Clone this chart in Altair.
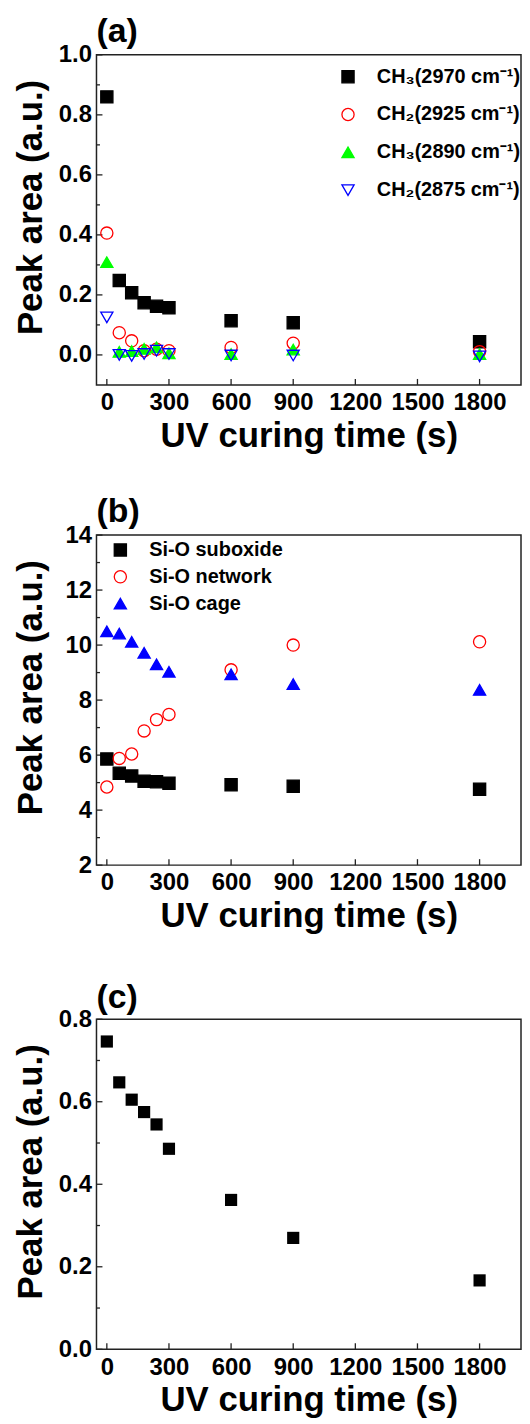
import altair as alt
import pandas as pd

FONT = "Liberation Sans"

# ---------------- data ----------------
time_s = [0, 60, 120, 180, 240, 300, 600, 900, 1800]

# panel (a)
ch3_2970 = [0.860, 0.248, 0.207, 0.174, 0.162, 0.157, 0.114, 0.107, 0.044]
ch2_2925 = [0.406, 0.074, 0.047, 0.014, 0.019, 0.014, 0.025, 0.039, 0.011]
ch3_2890 = [0.309, 0.010, 0.013, 0.020, 0.025, 0.005, 0.003, 0.018, 0.003]
ch2_2875 = [0.125, 0.000, -0.003, 0.003, 0.014, 0.003, -0.002, -0.002, -0.005]
series_a = ["CH₃(2970 cm⁻¹)", "CH₂(2925 cm⁻¹)", "CH₃(2890 cm⁻¹)", "CH₂(2875 cm⁻¹)"]

# panel (b)
si_o_suboxide = [5.86, 5.34, 5.24, 5.05, 5.03, 4.98, 4.92, 4.87, 4.76]
si_o_network = [4.84, 5.88, 6.04, 6.88, 7.29, 7.48, 9.10, 10.00, 10.12]
si_o_cage = [10.50, 10.42, 10.12, 9.72, 9.30, 9.03, 8.94, 8.58, 8.37]
series_b = ["Si-O suboxide", "Si-O network", "Si-O cage"]

# panel (c)
panel_c_vals = [0.746, 0.647, 0.605, 0.575, 0.545, 0.486, 0.362, 0.270, 0.167]

# ticks
x_ticks = [0, 300, 600, 900, 1200, 1500, 1800]
a_major = [0.0, 0.2, 0.4, 0.6, 0.8, 1.0]
a_minor = [0.1, 0.3, 0.5, 0.7, 0.9]
b_major = [2, 4, 6, 8, 10, 12, 14]
b_minor = [3, 5, 7, 9, 11, 13]
c_major = [0.0, 0.2, 0.4, 0.6, 0.8]
c_minor = [0.1, 0.3, 0.5, 0.7]

W, H = 427, 332


def long_df(series_names, value_lists):
    rows = []
    for name, vals in zip(series_names, value_lists):
        for t, v in zip(time_s, vals):
            rows.append({"t": t, "y": v, "series": name})
    return pd.DataFrame(rows)


def panel(df, ydom, ymaj, ymin, yfmt, title, shapes=None, fills=None, strokes=None,
          series=None, legend=None, title_offset=-6):
    x_enc = alt.X("t:Q",
                  scale=alt.Scale(domain=[-50, 2000], nice=False, zero=False),
                  axis=alt.Axis(values=x_ticks, format="d", title="UV curing time (s)",
                                labelFont=FONT, labelFontSize=24, labelFontWeight="bold",
                                labelColor="black", labelPadding=6, labelFlush=False,
                                titleFont=FONT, titleFontSize=35, titleFontWeight="bold",
                                titleColor="black", titlePadding=4,
                                ticks=False, domain=False, grid=False))
    y_enc = alt.Y("y:Q",
                  scale=alt.Scale(domain=ydom, nice=False, zero=False),
                  axis=alt.Axis(values=ymaj, format=yfmt, title="Peak area (a.u.)",
                                labelFont=FONT, labelFontSize=24, labelFontWeight="bold",
                                labelColor="black", labelPadding=5, labelFlush=False,
                                titleFont=FONT, titleFontSize=35, titleFontWeight="bold",
                                titleColor="black", titlePadding=8, titleY=H / 2 - 13,
                                minExtent=40, maxExtent=40,
                                ticks=False, domain=False, grid=False))

    ymaj_rule = alt.Chart(pd.DataFrame({"y": ymaj})).mark_rule(
        color="#222", strokeWidth=1.3).encode(y=y_enc, x=alt.value(0), x2=alt.value(6))
    ymin_rule = alt.Chart(pd.DataFrame({"y": ymin})).mark_rule(
        color="#222", strokeWidth=1.3).encode(y=y_enc, x=alt.value(0), x2=alt.value(3.5))
    x_rule = alt.Chart(pd.DataFrame({"t": x_ticks})).mark_rule(
        color="#222", strokeWidth=1.3).encode(x=x_enc, y=alt.value(H), y2=alt.value(H - 6))

    if series is not None:
        pts = alt.Chart(df).mark_point(opacity=1, size=150, strokeWidth=1.3).encode(
            x=x_enc, y=y_enc,
            shape=alt.Shape("series:N", scale=alt.Scale(domain=series, range=shapes),
                            legend=legend),
            fill=alt.Fill("series:N", scale=alt.Scale(domain=series, range=fills),
                          legend=legend),
            stroke=alt.Stroke("series:N", scale=alt.Scale(domain=series, range=strokes),
                              legend=legend),
        )
    else:
        pts = alt.Chart(df).mark_point(opacity=1, size=150, shape="square", filled=True,
                                       color="black").encode(x=x_enc, y=y_enc)

    return alt.layer(ymaj_rule, ymin_rule, x_rule, pts).properties(
        width=W, height=H,
        title=alt.TitleParams(title, anchor="start", frame="group", fontSize=34,
                              font=FONT, fontWeight="bold", color="black",
                              offset=title_offset))


def make_legend(lx, ly, row_pad):
    return alt.Legend(orient="none", legendX=lx, legendY=ly, title=None,
                      labelFont=FONT, labelFontSize=20, labelFontWeight="bold",
                      labelColor="black", symbolSize=150, symbolStrokeWidth=1.3,
                      rowPadding=row_pad, labelOffset=19, padding=0)


df_a = long_df(series_a, [ch3_2970, ch2_2925, ch3_2890, ch2_2875])
df_b = long_df(series_b, [si_o_suboxide, si_o_network, si_o_cage])
df_c = long_df(["c"], [panel_c_vals])

chart_a = panel(df_a, [-0.1, 1.0], a_major, a_minor, ".1f", "(a)",
                shapes=["square", "circle", "triangle-up", "triangle-down"],
                fills=["#000000", "transparent", "#00ff00", "transparent"],
                strokes=["#000000", "#ff0000", "#00ff00", "#0000ff"],
                series=series_a, legend=make_legend(243, 12, 18))

chart_b = panel(df_b, [2, 14], b_major, b_minor, "d", "(b)",
                shapes=["square", "circle", "triangle-up"],
                fills=["#000000", "transparent", "#0000ff"],
                strokes=["#000000", "#ff0000", "#0000ff"],
                series=series_b, legend=make_legend(14, 5, 7))

chart_c = panel(df_c, [0, 0.8], c_major, c_minor, ".1f", "(c)", title_offset=-8)


def independent(c):
    return c.resolve_scale(
        y="independent", shape="independent", fill="independent", stroke="independent"
    ).resolve_legend(shape="independent", fill="independent", stroke="independent")


top_pair = independent(alt.vconcat(chart_a, chart_b, spacing=40))

chart = independent(alt.vconcat(top_pair, chart_c, spacing=46)).properties(
    padding={"left": 5, "top": 2, "right": 0, "bottom": 0}
).configure_view(stroke="#222", strokeWidth=1.5)

chart.save("out.html", embed_options={"renderer": "svg", "actions": False})
